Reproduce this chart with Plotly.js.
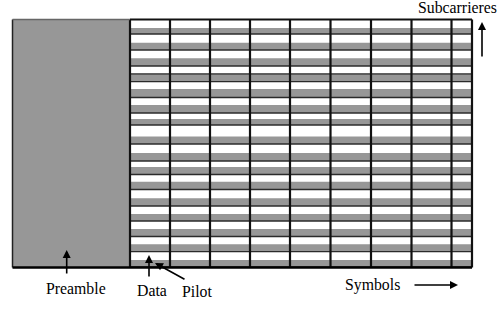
<!DOCTYPE html>
<html>
<head>
<meta charset="utf-8">
<script src="https://cdn.plot.ly/plotly-3.0.1.min.js"></script>
<style>html,body{margin:0;padding:0;background:#fff;}#chart{width:503px;height:309px;}</style>
</head>
<body>
<div id="chart"></div>
<script>
// Frame layout (time = x, frequency = y), in picture units
const preambleSpan = [12.5, 130];
const gridSpan = [19.5, 267.5];
const symbolEdges = [130, 170, 210, 250, 290, 330.5, 371, 411.5, 451.5, 472];
const pilotTop    = [28, 42.7, 58.3, 74.7, 89, 105, 119, 136.5, 153, 167, 181.7, 198.3, 214, 229, 244.2, 260];
const pilotBottom = [34, 50, 66, 81.7, 97.5, 113, 125, 144, 161, 174.5, 189.5, 206, 221, 236.5, 251.7, 267];
const extraLines  = [74];
const labels = ["Subcarrieres", "Preamble", "Data", "Pilot", "Symbols"];

const GREY = '#979797';
const traces = [];

// preamble block
traces.push({
  x: [preambleSpan[0], preambleSpan[1], preambleSpan[1], preambleSpan[0], preambleSpan[0]],
  y: [gridSpan[0], gridSpan[0], gridSpan[1], gridSpan[1], gridSpan[0]],
  mode: 'lines', fill: 'toself', fillcolor: GREY, line: {width: 0}, hoverinfo: 'skip'
});

// pilot stripes
const gx0 = symbolEdges[0], gx1 = symbolEdges[symbolEdges.length - 1];
{
  const xs = [], ys = [];
  pilotTop.forEach((t, i) => {
    const b = pilotBottom[i];
    xs.push(gx0, gx1 + 0.8, gx1 + 0.8, gx0, gx0, null);
    ys.push(t, t, b, b, t, null);
  });
  traces.push({x: xs, y: ys, mode: 'lines', fill: 'toself', fillcolor: GREY,
    line: {width: 0}, hoverinfo: 'skip'});
}

// horizontal subcarrier lines
{
  const xs = [], ys = [];
  pilotBottom.concat(extraLines).forEach(v => { xs.push(gx0, gx1, null); ys.push(v, v, null); });
  traces.push({x: xs, y: ys, mode: 'lines', line: {color: '#2b2b2b', width: 1.3}, hoverinfo: 'skip'});
}

// vertical symbol lines
{
  const xs = [], ys = [];
  symbolEdges.forEach(v => { xs.push(v, v, null); ys.push(gridSpan[0], gridSpan[1], null); });
  traces.push({x: xs, y: ys, mode: 'lines', line: {color: '#111', width: 2.2}, hoverinfo: 'skip'});
}

// outer borders
traces.push({x: [preambleSpan[0], preambleSpan[0]], y: [gridSpan[0], gridSpan[1]],
  mode: 'lines', line: {color: '#222', width: 1.5}, hoverinfo: 'skip'});
traces.push({x: [preambleSpan[0], preambleSpan[1]], y: [gridSpan[0], gridSpan[0]],
  mode: 'lines', line: {color: '#666', width: 1.3}, hoverinfo: 'skip'});
traces.push({x: [gx0, gx1], y: [gridSpan[0], gridSpan[0]],
  mode: 'lines', line: {color: '#111', width: 2}, hoverinfo: 'skip'});
traces.push({x: [preambleSpan[0], gx1], y: [gridSpan[1], gridSpan[1]],
  mode: 'lines', line: {color: '#000', width: 2.5}, hoverinfo: 'skip'});

const FAMILY = "'Times New Roman', Times, 'Liberation Serif', 'DejaVu Serif', serif";
const font = {family: FAMILY, size: 15.8, color: '#000'};
function txt(t, x, y) {
  return {text: t, x: x, y: y, xref: 'x', yref: 'y', showarrow: false, font: font,
    xanchor: 'center', yanchor: 'middle'};
}
function arrow(x, y, ax, ay) {
  return {text: '', x: x, y: y, ax: ax, ay: ay, xref: 'x', yref: 'y', axref: 'x', ayref: 'y',
    showarrow: true, arrowhead: 2, arrowsize: 1, arrowwidth: 1.6, arrowcolor: '#000'};
}

const annotations = [
  txt(labels[0], 457, 7),
  txt(labels[1], 76, 288),
  txt(labels[2], 152, 290),
  txt(labels[3], 197, 291),
  txt(labels[4], 372, 285),
  arrow(482, 22, 482, 58),
  arrow(66.7, 250, 66.7, 275),
  arrow(149, 255, 149, 278),
  arrow(155, 263, 186, 280),
  arrow(458, 285, 413, 285)
];

const layout = {
  width: 503, height: 309,
  margin: {l: 0, r: 0, t: 0, b: 0},
  paper_bgcolor: '#fff', plot_bgcolor: '#fff',
  showlegend: false,
  font: {family: FAMILY},
  xaxis: {range: [0, 503], visible: false, fixedrange: true},
  yaxis: {range: [309, 0], visible: false, fixedrange: true},
  annotations: annotations
};

Plotly.newPlot('chart', traces, layout, {displayModeBar: false, staticPlot: true});
</script>
</body>
</html>
